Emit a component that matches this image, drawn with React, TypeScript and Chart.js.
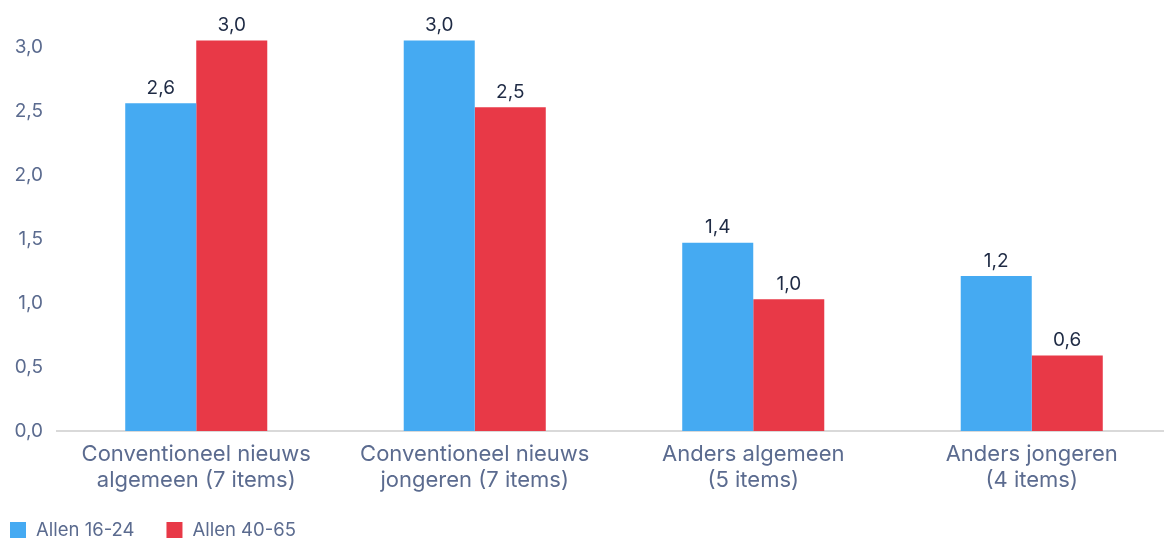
import React, { useEffect, useRef } from "react";
import { Chart, registerables } from "chart.js";

Chart.register(...registerables);

const categories: string[][] = [
  ["Conventioneel nieuws", "algemeen (7 items)"],
  ["Conventioneel nieuws", "jongeren (7 items)"],
  ["Anders algemeen", "(5 items)"],
  ["Anders jongeren", "(4 items)"],
];
const seriesNames = ["Allen 16-24", "Allen 40-65"];
const youngValues = [2.56, 3.05, 1.47, 1.21];
const olderValues = [3.05, 2.53, 1.03, 0.59];
const youngLabels = ["2,6", "3,0", "1,4", "1,2"];
const olderLabels = ["3,0", "2,5", "1,0", "0,6"];
const seriesColors = ["#45AAF2", "#E83947"];
const yMax = 3.2;
const yStep = 0.5;

const FONT = "Inter, 'Noto Sans', sans-serif";
const TICK_COLOR = "#5B6B8F";
const LABEL_COLOR = "#1E2A44";

const valueLabelPlugin = {
  id: "valueLabels",
  afterDatasetsDraw(chart: any) {
    const ctx = chart.ctx;
    const all = [youngLabels, olderLabels];
    ctx.save();
    ctx.font = `19px ${FONT}`;
    ctx.fillStyle = LABEL_COLOR;
    ctx.textAlign = "center";
    ctx.textBaseline = "alphabetic";
    chart.data.datasets.forEach((_ds: any, di: number) => {
      const meta = chart.getDatasetMeta(di);
      meta.data.forEach((bar: any, i: number) => {
        ctx.fillText(all[di][i], bar.x, bar.y - 9.5);
      });
    });
    ctx.restore();
  },
};

const legendPlugin = {
  id: "customLegend",
  afterDraw(chart: any) {
    const ctx = chart.ctx;
    ctx.save();
    ctx.font = `18.5px ${FONT}`;
    ctx.textBaseline = "middle";
    ctx.textAlign = "left";
    let x = 10;
    const boxTop = chart.height - 17;
    chart.data.datasets.forEach((ds: any) => {
      ctx.fillStyle = ds.backgroundColor;
      ctx.fillRect(x, boxTop, 16, 16);
      ctx.fillStyle = TICK_COLOR;
      const tx = x + 26;
      ctx.fillText(ds.label, tx, boxTop + 8);
      x = tx + ctx.measureText(ds.label).width + 32;
    });
    ctx.restore();
  },
};

export default function App() {
  const ref = useRef<HTMLCanvasElement | null>(null);
  useEffect(() => {
    if (!ref.current) return;
    const chart = new Chart(ref.current, {
      type: "bar",
      data: {
        labels: categories,
        datasets: [
          {
            label: seriesNames[0],
            data: youngValues,
            backgroundColor: seriesColors[0],
            categoryPercentage: 0.51,
            barPercentage: 1,
          },
          {
            label: seriesNames[1],
            data: olderValues,
            backgroundColor: seriesColors[1],
            categoryPercentage: 0.51,
            barPercentage: 1,
          },
        ],
      },
      options: {
        animation: false,
        responsive: false,
        layout: { padding: { top: 21.4, right: 1, left: 0, bottom: 0 } },
        plugins: {
          legend: { display: false },
          tooltip: { enabled: false },
        },
        scales: {
          x: {
            grid: { display: false, drawTicks: false },
            border: { display: true, color: "#D9D9D9", width: 2 },
            ticks: {
              padding: 10,
              color: TICK_COLOR,
              font: { family: FONT, size: 22, lineHeight: 1.18 },
              maxRotation: 0,
              autoSkip: false,
            },
            afterFit: (s: any) => {
              s.height = 108;
            },
          },
          y: {
            min: 0,
            max: yMax,
            grid: { display: false, drawTicks: false },
            border: { display: false },
            ticks: {
              stepSize: yStep,
              includeBounds: false,
              padding: 14,
              color: TICK_COLOR,
              font: { family: FONT, size: 19 },
              callback: (v: any) => Number(v).toFixed(1).replace(".", ","),
            },
            afterFit: (s: any) => {
              s.width = 57;
              s.paddingTop = 0;
              s.paddingBottom = 0;
            },
          },
        },
      },
      plugins: [valueLabelPlugin, legendPlugin],
    });
    return () => chart.destroy();
  }, []);
  return (
    <div
      style={{
        position: "fixed",
        left: 0,
        top: 0,
        width: 1164,
        height: 539,
        overflow: "hidden",
        background: "#fff",
      }}
    >
      <canvas ref={ref} width={1172} height={539} style={{ width: 1172, height: 539, display: "block" }} />
    </div>
  );
}
